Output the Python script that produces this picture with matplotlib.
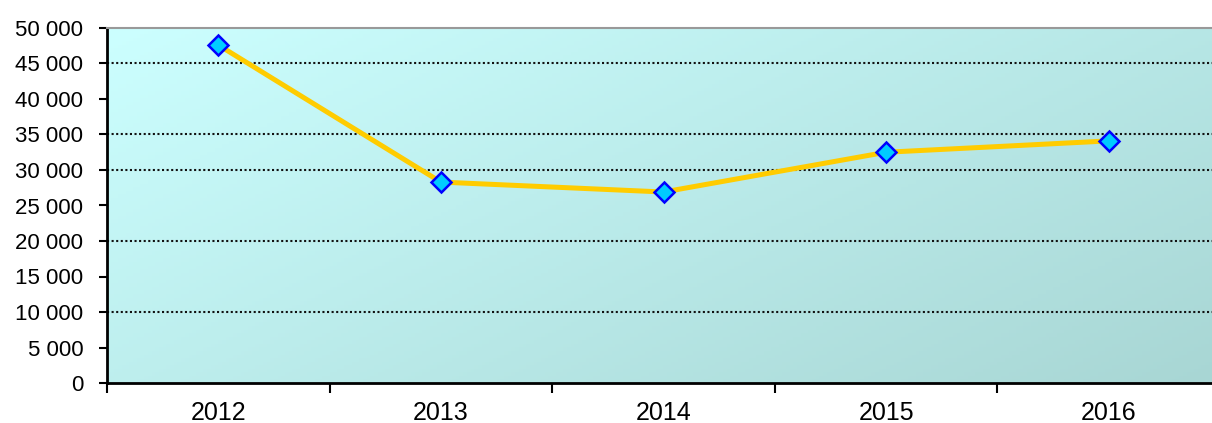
import matplotlib
matplotlib.use("Agg")
import matplotlib.pyplot as plt
import numpy as np
from matplotlib.ticker import FuncFormatter, FixedLocator

plt.rcParams["font.family"] = ["Liberation Sans", "DejaVu Sans"]

years = ["2012", "2013", "2014", "2015", "2016"]
values = [47600, 28300, 26900, 32500, 34100]
grid_levels = [10000, 20000, 30000, 35000, 45000]

fig = plt.figure(figsize=(12.12, 4.23), dpi=100)
W, H = 1212, 423
left, right, top, bottom = 107, 1220, 28, 383
ax = fig.add_axes([left / W, 1 - bottom / H, (right - left) / W, (bottom - top) / H])

x = np.arange(len(years))
ax.set_xlim(-0.5, len(years) - 0.5)
ax.set_ylim(0, 50000)

# diagonal gradient background: light cyan top-left -> dull teal bottom-right
gx, gy = np.meshgrid(np.linspace(0, 1, 300), np.linspace(0, 1, 100))
t = (gx * 0.6 + gy * 0.4)
c0 = np.array([204, 255, 255]) / 255
c1 = np.array([168, 214, 212]) / 255
img = c0[None, None, :] * (1 - t[..., None]) + c1[None, None, :] * t[..., None]
ax.imshow(img, extent=(-0.5, len(years) - 0.5, 0, 50000), origin="upper",
          aspect="auto", zorder=0)

for g in grid_levels:
    ax.axhline(g, color="#111111", ls=(0, (1, 1.2)), lw=1.5, zorder=1)

ax.plot(x, values, color="#FFCC00", lw=3.6, zorder=3,
        marker="D", ms=10, mfc="#00CCFF", mec="#0000FF", mew=1.8)

ax.yaxis.set_major_locator(FixedLocator(np.arange(0, 50001, 5000)))
ax.yaxis.set_major_formatter(FuncFormatter(lambda v, p: f"{int(v):,}".replace(",", " ")))
ax.tick_params(axis="y", length=6, width=1.5, labelsize=16, pad=11)

ax.set_xticks(np.arange(-0.5, len(years), 1.0))
ax.set_xticklabels([])
ax.set_xticks(x, minor=True)
ax.set_xticklabels(years, minor=True)
ax.tick_params(axis="x", which="major", length=7, width=1.5, direction="out")
ax.tick_params(axis="x", which="minor", length=0, labelsize=18, pad=13)

for s in ("left", "bottom"):
    ax.spines[s].set_linewidth(2)
    ax.spines[s].set_color("black")
ax.spines["top"].set_color("#999999")
ax.spines["top"].set_linewidth(1.5)
ax.spines["right"].set_visible(False)

fig.savefig("out.png", dpi=100)
